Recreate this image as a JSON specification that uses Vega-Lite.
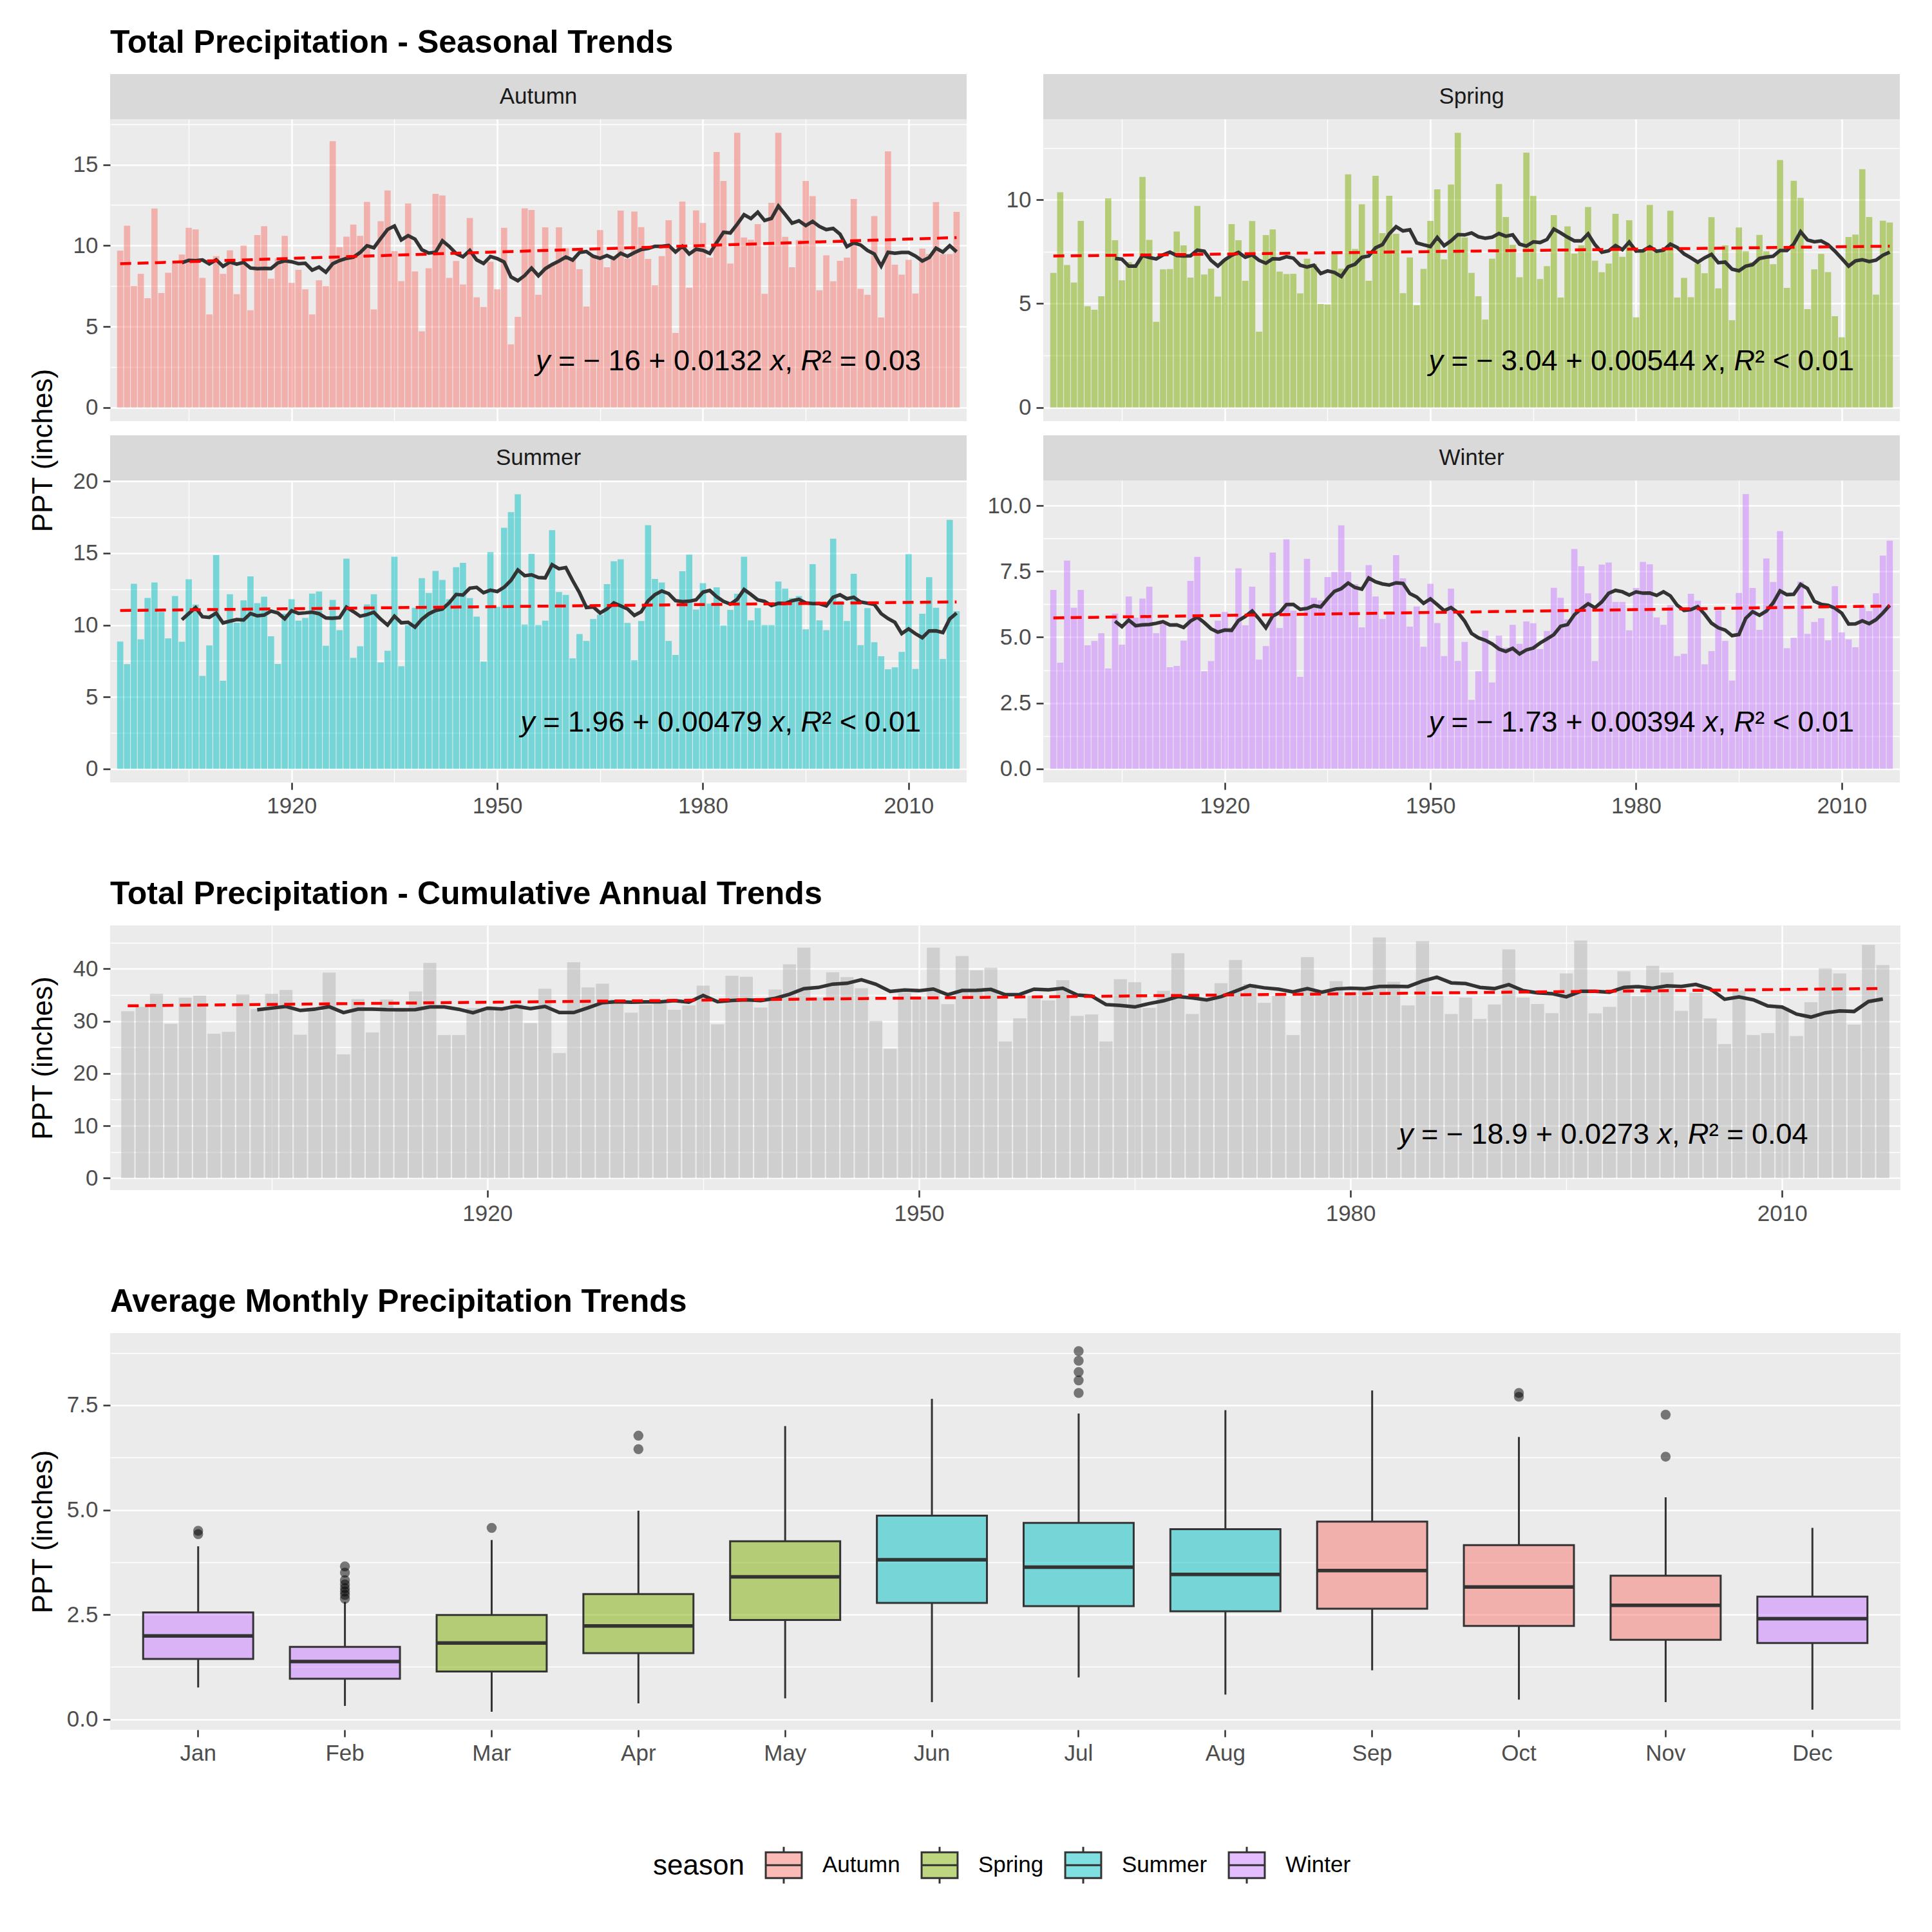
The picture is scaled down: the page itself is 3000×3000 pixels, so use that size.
{
"$schema": "https://vega.github.io/schema/vega-lite/v6.json",
"background": "white",
"autosize": {"type": "pad"},
"padding": {"left": 45, "top": 42, "right": 5, "bottom": 5},
"config": {
  "font": "Liberation Sans",
  "view": {"fill": "#EBEBEB", "stroke": null},
  "axis": {"domain": false, "gridColor": "#FFFFFF", "gridWidth": 2.6, "tickColor": "#333333", "tickWidth": 2.5, "tickSize": 11, "labelColor": "#4D4D4D", "labelFontSize": 35, "labelPadding": 8, "labelOverlap": false, "titleFontSize": 44, "titleFontWeight": "normal", "titleColor": "#000000"},
  "title": {"fontSize": 50, "fontWeight": "bold", "anchor": "start", "color": "#000000", "baseline": "bottom", "offset": 23, "frame": "group"},
  "text": {"fontSize": 45, "color": "#000000", "align": "right", "baseline": "middle"}
},
"datasets": {
"ppt": [
{"year":1895,"Autumn":9.68,"Spring":6.48,"Summer":8.85,"Winter":6.80,"Annual":31.89},
{"year":1896,"Autumn":11.23,"Spring":10.36,"Summer":7.28,"Winter":4.03,"Annual":32.7},
{"year":1897,"Autumn":7.51,"Spring":6.86,"Summer":12.87,"Winter":7.91,"Annual":35.2},
{"year":1898,"Autumn":8.25,"Spring":6.01,"Summer":9.0,"Winter":6.12,"Annual":29.47},
{"year":1899,"Autumn":6.75,"Spring":8.98,"Summer":11.88,"Winter":6.80,"Annual":34.47},
{"year":1900,"Autumn":12.29,"Spring":4.87,"Summer":12.96,"Winter":4.69,"Annual":34.88},
{"year":1901,"Autumn":7.07,"Spring":4.70,"Summer":10.91,"Winter":4.86,"Annual":27.58},
{"year":1902,"Autumn":8.32,"Spring":5.35,"Summer":9.07,"Winter":5.15,"Annual":27.95},
{"year":1903,"Autumn":8.9,"Spring":10.07,"Summer":12.02,"Winter":3.81,"Annual":35.08},
{"year":1904,"Autumn":9.45,"Spring":8.05,"Summer":8.83,"Winter":5.9,"Annual":32.3},
{"year":1905,"Autumn":11.1,"Spring":6.12,"Summer":13.18,"Winter":4.72,"Annual":35.2},
{"year":1906,"Autumn":11.0,"Spring":7.0,"Summer":11.42,"Winter":6.55,"Annual":35.94},
{"year":1907,"Autumn":8.0,"Spring":6.9,"Summer":6.46,"Winter":5.74,"Annual":27.38},
{"year":1908,"Autumn":5.75,"Spring":11.1,"Summer":8.58,"Winter":6.47,"Annual":31.9},
{"year":1909,"Autumn":9.35,"Spring":8.07,"Summer":14.86,"Winter":6.92,"Annual":39.26},
{"year":1910,"Autumn":8.25,"Spring":4.12,"Summer":6.13,"Winter":5.15,"Annual":23.65},
{"year":1911,"Autumn":9.7,"Spring":6.65,"Summer":12.14,"Winter":5.5,"Annual":34.2},
{"year":1912,"Autumn":7.0,"Spring":6.66,"Summer":10.16,"Winter":3.86,"Annual":27.83},
{"year":1913,"Autumn":10.0,"Spring":8.47,"Summer":11.72,"Winter":3.91,"Annual":34.14},
{"year":1914,"Autumn":6.0,"Spring":7.8,"Summer":13.38,"Winter":4.87,"Annual":32.05},
{"year":1915,"Autumn":10.65,"Spring":6.25,"Summer":11.52,"Winter":7.14,"Annual":35.66},
{"year":1916,"Autumn":11.2,"Spring":9.7,"Summer":11.97,"Winter":8.05,"Annual":41.11},
{"year":1917,"Autumn":7.95,"Spring":6.4,"Summer":9.22,"Winter":3.71,"Annual":27.34},
{"year":1918,"Autumn":9.2,"Spring":6.68,"Summer":7.29,"Winter":4.09,"Annual":27.34},
{"year":1919,"Autumn":10.6,"Spring":5.34,"Summer":10.78,"Winter":5.63,"Annual":32.5},
{"year":1920,"Autumn":7.7,"Spring":7.13,"Summer":11.79,"Winter":5.96,"Annual":32.58},
{"year":1921,"Autumn":8.5,"Spring":8.83,"Summer":10.3,"Winter":5.37,"Annual":32.5},
{"year":1922,"Autumn":7.3,"Spring":8.05,"Summer":10.49,"Winter":7.62,"Annual":33.2},
{"year":1923,"Autumn":5.75,"Spring":6.1,"Summer":12.18,"Winter":5.45,"Annual":29.6},
{"year":1924,"Autumn":7.85,"Spring":8.97,"Summer":12.33,"Winter":6.92,"Annual":36.19},
{"year":1925,"Autumn":7.5,"Spring":3.65,"Summer":8.56,"Winter":4.15,"Annual":23.89},
{"year":1926,"Autumn":16.45,"Spring":8.3,"Summer":11.75,"Winter":4.66,"Annual":41.23},
{"year":1927,"Autumn":9.9,"Spring":8.57,"Summer":9.64,"Winter":8.22,"Annual":36.43},
{"year":1928,"Autumn":10.55,"Spring":6.54,"Summer":14.62,"Winter":5.35,"Annual":37.13},
{"year":1929,"Autumn":11.3,"Spring":6.42,"Summer":7.71,"Winter":8.72,"Annual":34.15},
{"year":1930,"Autumn":10.6,"Spring":6.43,"Summer":8.52,"Winter":6.01,"Annual":31.6},
{"year":1931,"Autumn":12.7,"Spring":5.49,"Summer":11.43,"Winter":3.49,"Annual":33.11},
{"year":1932,"Autumn":6.05,"Spring":7.16,"Summer":12.14,"Winter":7.98,"Annual":33.33},
{"year":1933,"Autumn":11.5,"Spring":6.91,"Summer":7.4,"Winter":6.5,"Annual":32.17},
{"year":1934,"Autumn":13.4,"Spring":4.98,"Summer":8.21,"Winter":6.4,"Annual":33.0},
{"year":1935,"Autumn":9.65,"Spring":4.96,"Summer":14.75,"Winter":7.29,"Annual":36.76},
{"year":1936,"Autumn":7.8,"Spring":7.49,"Summer":7.13,"Winter":7.48,"Annual":29.4},
{"year":1937,"Autumn":12.6,"Spring":6.68,"Summer":10.0,"Winter":9.25,"Annual":38.65},
{"year":1938,"Autumn":8.4,"Spring":11.22,"Summer":11.2,"Winter":7.48,"Annual":38.48},
{"year":1939,"Autumn":4.7,"Spring":7.63,"Summer":13.26,"Winter":7.01,"Annual":32.58},
{"year":1940,"Autumn":8.6,"Spring":9.78,"Summer":12.23,"Winter":5.37,"Annual":36.02},
{"year":1941,"Autumn":13.2,"Spring":6.1,"Summer":13.77,"Winter":7.74,"Annual":40.82},
{"year":1942,"Autumn":13.1,"Spring":11.15,"Summer":13.14,"Winter":6.55,"Annual":44.02},
{"year":1943,"Autumn":8.0,"Spring":8.39,"Summer":11.79,"Winter":5.69,"Annual":34.5},
{"year":1944,"Autumn":9.05,"Spring":10.19,"Summer":14.02,"Winter":5.99,"Annual":39.34},
{"year":1945,"Autumn":7.6,"Spring":8.36,"Summer":14.32,"Winter":8.12,"Annual":38.4},
{"year":1946,"Autumn":11.7,"Spring":5.5,"Summer":11.87,"Winter":7.24,"Annual":36.27},
{"year":1947,"Autumn":6.8,"Spring":7.22,"Summer":10.58,"Winter":5.4,"Annual":30.04},
{"year":1948,"Autumn":6.2,"Spring":4.92,"Summer":7.46,"Winter":6.17,"Annual":24.71},
{"year":1949,"Autumn":9.0,"Spring":6.67,"Summer":15.07,"Winter":4.64,"Annual":35.38},
{"year":1950,"Autumn":7.3,"Spring":8.98,"Summer":11.27,"Winter":7.03,"Annual":34.58},
{"year":1951,"Autumn":11.1,"Spring":10.5,"Summer":16.77,"Winter":5.54,"Annual":44.02},
{"year":1952,"Autumn":3.9,"Spring":7.13,"Summer":17.85,"Winter":4.28,"Annual":33.24},
{"year":1953,"Autumn":5.6,"Spring":10.73,"Summer":19.1,"Winter":6.85,"Annual":42.42},
{"year":1954,"Autumn":12.3,"Spring":13.22,"Summer":10.03,"Winter":4.1,"Annual":39.71},
{"year":1955,"Autumn":12.2,"Spring":8.18,"Summer":14.95,"Winter":4.82,"Annual":40.2},
{"year":1956,"Autumn":6.96,"Spring":6.48,"Summer":10.0,"Winter":2.62,"Annual":26.1},
{"year":1957,"Autumn":11.13,"Spring":5.35,"Summer":10.3,"Winter":3.71,"Annual":30.53},
{"year":1958,"Autumn":8.8,"Spring":4.23,"Summer":16.6,"Winter":5.25,"Annual":34.88},
{"year":1959,"Autumn":11.13,"Spring":7.16,"Summer":12.3,"Winter":3.28,"Annual":33.93},
{"year":1960,"Autumn":9.83,"Spring":10.76,"Summer":12.09,"Winter":5.06,"Annual":37.83},
{"year":1961,"Autumn":9.2,"Spring":9.17,"Summer":7.68,"Winter":4.6,"Annual":31.0},
{"year":1962,"Autumn":8.54,"Spring":7.83,"Summer":9.37,"Winter":5.47,"Annual":31.27},
{"year":1963,"Autumn":6.23,"Spring":6.27,"Summer":8.89,"Winter":4.75,"Annual":26.1},
{"year":1964,"Autumn":9.38,"Spring":12.27,"Summer":10.42,"Winter":5.6,"Annual":37.99},
{"year":1965,"Autumn":10.96,"Spring":10.18,"Summer":10.72,"Winter":5.53,"Annual":37.42},
{"year":1966,"Autumn":8.66,"Spring":6.18,"Summer":12.85,"Winter":4.55,"Annual":32.54},
{"year":1967,"Autumn":9.2,"Spring":6.80,"Summer":14.44,"Winter":5.24,"Annual":35.78},
{"year":1968,"Autumn":12.16,"Spring":9.26,"Summer":14.57,"Winter":6.88,"Annual":42.95},
{"year":1969,"Autumn":9.2,"Spring":5.29,"Summer":10.15,"Winter":6.5,"Annual":31.35},
{"year":1970,"Autumn":12.1,"Spring":8.72,"Summer":7.55,"Winter":5.68,"Annual":34.05},
{"year":1971,"Autumn":11.14,"Spring":7.41,"Summer":10.28,"Winter":8.35,"Annual":37.25},
{"year":1972,"Autumn":9.18,"Spring":7.80,"Summer":16.95,"Winter":7.7,"Annual":41.68},
{"year":1973,"Autumn":7.55,"Spring":9.65,"Summer":13.2,"Winter":6.67,"Annual":37.07},
{"year":1974,"Autumn":9.35,"Spring":7.07,"Summer":12.96,"Winter":4.09,"Annual":33.48},
{"year":1975,"Autumn":11.56,"Spring":6.51,"Summer":8.89,"Winter":7.76,"Annual":34.84},
{"year":1976,"Autumn":4.6,"Spring":6.93,"Summer":7.92,"Winter":7.84,"Annual":27.34},
{"year":1977,"Autumn":12.72,"Spring":9.32,"Summer":13.74,"Winter":6.34,"Annual":42.21},
{"year":1978,"Autumn":7.4,"Spring":7.25,"Summer":14.9,"Winter":6.34,"Annual":35.89},
{"year":1979,"Autumn":12.17,"Spring":9.01,"Summer":11.08,"Winter":5.26,"Annual":37.62},
{"year":1980,"Autumn":11.4,"Spring":4.34,"Summer":12.91,"Winter":6.87,"Annual":35.52},
{"year":1981,"Autumn":9.26,"Spring":7.52,"Summer":11.49,"Winter":7.86,"Annual":36.13},
{"year":1982,"Autumn":15.78,"Spring":9.75,"Summer":12.62,"Winter":7.77,"Annual":45.98},
{"year":1983,"Autumn":13.99,"Spring":7.49,"Summer":9.97,"Winter":5.75,"Annual":37.5},
{"year":1984,"Autumn":8.89,"Spring":7.59,"Summer":11.05,"Winter":5.47,"Annual":32.99},
{"year":1985,"Autumn":16.96,"Spring":9.47,"Summer":12.17,"Winter":6.22,"Annual":45.25},
{"year":1986,"Autumn":10.5,"Spring":5.29,"Summer":14.75,"Winter":4.28,"Annual":34.82},
{"year":1987,"Autumn":10.36,"Spring":6.24,"Summer":10.33,"Winter":4.37,"Annual":31.35},
{"year":1988,"Autumn":11.33,"Spring":5.31,"Summer":11.18,"Winter":6.65,"Annual":34.5},
{"year":1989,"Autumn":7.02,"Spring":6.93,"Summer":10.0,"Winter":6.39,"Annual":30.4},
{"year":1990,"Autumn":12.64,"Spring":6.46,"Summer":10.0,"Winter":3.97,"Annual":33.16},
{"year":1991,"Autumn":16.96,"Spring":9.16,"Summer":13.02,"Winter":4.47,"Annual":43.69},
{"year":1992,"Autumn":10.54,"Spring":5.73,"Summer":12.53,"Winter":6.02,"Annual":34.5},
{"year":1993,"Autumn":8.66,"Spring":7.80,"Summer":11.87,"Winter":4.86,"Annual":33.28},
{"year":1994,"Autumn":10.34,"Spring":4.20,"Summer":12.02,"Winter":3.35,"Annual":31.5},
{"year":1995,"Autumn":13.99,"Spring":8.66,"Summer":9.7,"Winter":6.68,"Annual":39.1},
{"year":1996,"Autumn":13.06,"Spring":7.52,"Summer":14.23,"Winter":10.44,"Annual":45.4},
{"year":1997,"Autumn":7.24,"Spring":7.0,"Summer":10.33,"Winter":6.87,"Annual":31.48},
{"year":1998,"Autumn":9.4,"Spring":8.31,"Summer":9.64,"Winter":5.28,"Annual":32.7},
{"year":1999,"Autumn":7.79,"Spring":7.52,"Summer":16.01,"Winter":7.99,"Annual":39.5},
{"year":2000,"Autumn":9.06,"Spring":6.90,"Summer":11.67,"Winter":7.1,"Annual":34.73},
{"year":2001,"Autumn":9.26,"Spring":11.91,"Summer":10.28,"Winter":9.03,"Annual":40.57},
{"year":2002,"Autumn":12.88,"Spring":5.76,"Summer":13.56,"Winter":4.58,"Annual":39.26},
{"year":2003,"Autumn":7.33,"Spring":10.91,"Summer":8.6,"Winter":4.98,"Annual":31.93},
{"year":2004,"Autumn":6.96,"Spring":10.09,"Summer":11.18,"Winter":7.11,"Annual":35.4},
{"year":2005,"Autumn":11.82,"Spring":4.73,"Summer":8.8,"Winter":5.13,"Annual":30.49},
{"year":2006,"Autumn":5.56,"Spring":6.65,"Summer":7.83,"Winter":5.58,"Annual":25.61},
{"year":2007,"Autumn":15.82,"Spring":7.39,"Summer":6.92,"Winter":5.72,"Annual":35.85},
{"year":2008,"Autumn":8.82,"Spring":6.52,"Summer":7.06,"Winter":4.88,"Annual":27.34},
{"year":2009,"Autumn":8.2,"Spring":4.39,"Summer":8.13,"Winter":6.94,"Annual":27.7},
{"year":2010,"Autumn":9.12,"Spring":3.38,"Summer":14.93,"Winter":5.18,"Annual":32.61},
{"year":2011,"Autumn":7.04,"Spring":8.21,"Summer":6.94,"Winter":4.92,"Annual":27.13},
{"year":2012,"Autumn":9.81,"Spring":8.32,"Summer":10.78,"Winter":4.62,"Annual":33.6},
{"year":2013,"Autumn":9.48,"Spring":11.47,"Summer":13.33,"Winter":6.17,"Annual":40.1},
{"year":2014,"Autumn":12.69,"Spring":9.17,"Summer":11.2,"Winter":5.99,"Annual":39.1},
{"year":2015,"Autumn":9.48,"Spring":5.43,"Summer":7.64,"Winter":6.67,"Annual":29.34},
{"year":2016,"Autumn":9.48,"Spring":8.99,"Summer":17.32,"Winter":8.1,"Annual":44.55},
{"year":2017,"Autumn":12.08,"Spring":8.90,"Summer":10.96,"Winter":8.67,"Annual":40.7}
],
"box": [
{"month":"Jan","season":"Winter","lo":0.76,"q1":1.44,"med":1.99,"q3":2.55,"hi":4.13},
{"month":"Feb","season":"Winter","lo":0.32,"q1":0.97,"med":1.38,"q3":1.73,"hi":2.8},
{"month":"Mar","season":"Spring","lo":0.18,"q1":1.14,"med":1.82,"q3":2.49,"hi":4.28},
{"month":"Apr","season":"Spring","lo":0.38,"q1":1.58,"med":2.23,"q3":2.99,"hi":4.98},
{"month":"May","season":"Spring","lo":0.5,"q1":2.37,"med":3.4,"q3":4.25,"hi":7.0},
{"month":"Jun","season":"Summer","lo":0.41,"q1":2.78,"med":3.81,"q3":4.86,"hi":7.65},
{"month":"Jul","season":"Summer","lo":1.0,"q1":2.7,"med":3.63,"q3":4.69,"hi":7.3},
{"month":"Aug","season":"Summer","lo":0.59,"q1":2.58,"med":3.46,"q3":4.54,"hi":7.38},
{"month":"Sep","season":"Autumn","lo":1.17,"q1":2.64,"med":3.55,"q3":4.72,"hi":7.85},
{"month":"Oct","season":"Autumn","lo":0.47,"q1":2.23,"med":3.16,"q3":4.16,"hi":6.74},
{"month":"Nov","season":"Autumn","lo":0.41,"q1":1.9,"med":2.72,"q3":3.43,"hi":5.3},
{"month":"Dec","season":"Winter","lo":0.23,"q1":1.82,"med":2.4,"q3":2.93,"hi":4.57}
],
"out": [
{"month":"Jan","ppt":4.42},{"month":"Jan","ppt":4.5},
{"month":"Feb","ppt":2.88},{"month":"Feb","ppt":2.97},{"month":"Feb","ppt":3.05},{"month":"Feb","ppt":3.13},{"month":"Feb","ppt":3.22},{"month":"Feb","ppt":3.32},{"month":"Feb","ppt":3.5},{"month":"Feb","ppt":3.65},
{"month":"Mar","ppt":4.57},
{"month":"Apr","ppt":6.45},{"month":"Apr","ppt":6.77},
{"month":"Jul","ppt":7.79},{"month":"Jul","ppt":8.09},{"month":"Jul","ppt":8.29},{"month":"Jul","ppt":8.56},{"month":"Jul","ppt":8.79},
{"month":"Oct","ppt":7.7},{"month":"Oct","ppt":7.79},
{"month":"Nov","ppt":6.27},{"month":"Nov","ppt":7.27}
]
},
"spacing": 95,
"vconcat": [
{
 "title": {"text": "Total Precipitation - Seasonal Trends"},
 "columns": 2,
 "bounds": "flush",
 "align": "each",
 "spacing": {"row": 0, "column": 119},
 "concat": [
  {"width": 1330, "height": 70, "view": {"fill": null, "stroke": null}, "data": {"values": [{"label": "Autumn"}]},
   "layer": [
    {"mark": {"type": "rect", "color": "#D9D9D9"}, "encoding": {"x": {"datum": 0, "type": "quantitative", "scale": {"domain": [0, 1], "nice": false}, "axis": null}, "x2": {"datum": 1}, "y": {"datum": 0, "type": "quantitative", "scale": {"domain": [0, 70], "nice": false}, "axis": null}, "y2": {"datum": 70}}},
    {"mark": {"type": "text", "fontSize": 35, "color": "#1A1A1A", "align": "center", "baseline": "middle"}, "encoding": {"x": {"datum": 0.5, "type": "quantitative"}, "y": {"datum": 35, "type": "quantitative"}, "text": {"field": "label"}}}
   ]},
  {"width": 1330, "height": 70, "view": {"fill": null, "stroke": null}, "data": {"values": [{"label": "Spring"}]},
   "layer": [
    {"mark": {"type": "rect", "color": "#D9D9D9"}, "encoding": {"x": {"datum": 0, "type": "quantitative", "scale": {"domain": [0, 1], "nice": false}, "axis": null}, "x2": {"datum": 1}, "y": {"datum": 0, "type": "quantitative", "scale": {"domain": [0, 70], "nice": false}, "axis": null}, "y2": {"datum": 70}}},
    {"mark": {"type": "text", "fontSize": 35, "color": "#1A1A1A", "align": "center", "baseline": "middle"}, "encoding": {"x": {"datum": 0.5, "type": "quantitative"}, "y": {"datum": 35, "type": "quantitative"}, "text": {"field": "label"}}}
   ]},
  {"width": 1330, "height": 469,
   "layer": [
    {"data": {"name": "ppt"}, "mark": {"type": "bar", "width": 9.65, "color": "#F8766D", "fillOpacity": 0.5},
     "encoding": {
      "x": {"field": "year", "type": "quantitative", "scale": {"domain": [1894, 2018], "nice": false, "zero": false},
            "axis": {"values": [1905,1920,1935,1950,1965,1980,1995,2010], "labels": false, "ticks": false, "title": null, "gridWidth": {"condition": {"test": "datum.value % 30 == 0", "value": 2.6}, "value": 1.3}}},
      "y": {"field": "Autumn", "type": "quantitative", "scale": {"domain": [-0.848, 17.81], "nice": false, "zero": false},
            "axis": {"values": [0,2.5,5,7.5,10,12.5,15,17.5], "format": "d", "labelExpr": "datum.value % 5 == 0 ? datum.label : ''", "tickOpacity": {"condition": {"test": "datum.value % 5 == 0", "value": 1}, "value": 0}, "gridWidth": {"condition": {"test": "datum.value % 5 == 0", "value": 2.6}, "value": 1.3},
                     "title": "PPT (inches)", "titleX": -104, "titleY": 514, "titleAngle": -90, "titleAlign": "center", "titleBaseline": "middle"}}}},
    {"data": {"name": "ppt"}, "transform": [{"window": [{"op": "mean", "field": "Autumn", "as": "roll"}, {"op": "count", "as": "n"}], "frame": [-9, 0], "sort": [{"field": "year", "order": "ascending"}]}, {"filter": "datum.n == 10"}],
     "mark": {"type": "line", "color": "#333333", "strokeWidth": 5.5}, "encoding": {"x": {"field": "year", "type": "quantitative"}, "y": {"field": "roll", "type": "quantitative"}}},
    {"data": {"name": "ppt"}, "transform": [{"regression": "Autumn", "on": "year"}],
     "mark": {"type": "line", "color": "#FF0000", "strokeWidth": 4.5, "strokeDash": [17, 10]}, "encoding": {"x": {"field": "year", "type": "quantitative"}, "y": {"field": "Autumn", "type": "quantitative"}}},
    {"data": {"values": [{}]}, "mark": {"type": "text", "dx": 0}, "encoding": {"x": {"datum": 2011.8, "type": "quantitative"}, "y": {"datum": 2.86, "type": "quantitative"}, "text": {"value": "² = 0.03"}}},
    {"data": {"values": [{}]}, "mark": {"type": "text", "dx": -153.9, "fontStyle": "italic"}, "encoding": {"x": {"datum": 2011.8, "type": "quantitative"}, "y": {"datum": 2.86, "type": "quantitative"}, "text": {"value": "R"}}},
    {"data": {"values": [{}]}, "mark": {"type": "text", "dx": -198.9}, "encoding": {"x": {"datum": 2011.8, "type": "quantitative"}, "y": {"datum": 2.86, "type": "quantitative"}, "text": {"value": ","}}},
    {"data": {"values": [{}]}, "mark": {"type": "text", "dx": -211.4, "fontStyle": "italic"}, "encoding": {"x": {"datum": 2011.8, "type": "quantitative"}, "y": {"datum": 2.86, "type": "quantitative"}, "text": {"value": "x"}}},
    {"data": {"values": [{}]}, "mark": {"type": "text", "dx": -246.4}, "encoding": {"x": {"datum": 2011.8, "type": "quantitative"}, "y": {"datum": 2.86, "type": "quantitative"}, "text": {"value": "= − 16 + 0.0132"}}},
    {"data": {"values": [{}]}, "mark": {"type": "text", "dx": -575.4, "fontStyle": "italic"}, "encoding": {"x": {"datum": 2011.8, "type": "quantitative"}, "y": {"datum": 2.86, "type": "quantitative"}, "text": {"value": "y"}}}
   ]},
  {"width": 1330, "height": 469,
   "layer": [
    {"data": {"name": "ppt"}, "mark": {"type": "bar", "width": 9.65, "color": "#7CAE00", "fillOpacity": 0.5},
     "encoding": {
      "x": {"field": "year", "type": "quantitative", "scale": {"domain": [1894, 2018], "nice": false, "zero": false},
            "axis": {"values": [1905,1920,1935,1950,1965,1980,1995,2010], "labels": false, "ticks": false, "title": null, "gridWidth": {"condition": {"test": "datum.value % 30 == 0", "value": 2.6}, "value": 1.3}}},
      "y": {"field": "Spring", "type": "quantitative", "scale": {"domain": [-0.661, 13.88], "nice": false, "zero": false},
            "axis": {"values": [0,2.5,5,7.5,10,12.5], "format": "d", "labelExpr": "datum.value % 5 == 0 ? datum.label : ''", "tickOpacity": {"condition": {"test": "datum.value % 5 == 0", "value": 1}, "value": 0}, "gridWidth": {"condition": {"test": "datum.value % 5 == 0", "value": 2.6}, "value": 1.3}, "title": null}}}},
    {"data": {"name": "ppt"}, "transform": [{"window": [{"op": "mean", "field": "Spring", "as": "roll"}, {"op": "count", "as": "n"}], "frame": [-9, 0], "sort": [{"field": "year", "order": "ascending"}]}, {"filter": "datum.n == 10"}],
     "mark": {"type": "line", "color": "#333333", "strokeWidth": 5.5}, "encoding": {"x": {"field": "year", "type": "quantitative"}, "y": {"field": "roll", "type": "quantitative"}}},
    {"data": {"name": "ppt"}, "transform": [{"regression": "Spring", "on": "year"}],
     "mark": {"type": "line", "color": "#FF0000", "strokeWidth": 4.5, "strokeDash": [17, 10]}, "encoding": {"x": {"field": "year", "type": "quantitative"}, "y": {"field": "Spring", "type": "quantitative"}}},
    {"data": {"values": [{}]}, "mark": {"type": "text", "dx": 0}, "encoding": {"x": {"datum": 2011.8, "type": "quantitative"}, "y": {"datum": 2.22, "type": "quantitative"}, "text": {"value": "² < 0.01"}}},
    {"data": {"values": [{}]}, "mark": {"type": "text", "dx": -153.9, "fontStyle": "italic"}, "encoding": {"x": {"datum": 2011.8, "type": "quantitative"}, "y": {"datum": 2.22, "type": "quantitative"}, "text": {"value": "R"}}},
    {"data": {"values": [{}]}, "mark": {"type": "text", "dx": -198.9}, "encoding": {"x": {"datum": 2011.8, "type": "quantitative"}, "y": {"datum": 2.22, "type": "quantitative"}, "text": {"value": ","}}},
    {"data": {"values": [{}]}, "mark": {"type": "text", "dx": -211.4, "fontStyle": "italic"}, "encoding": {"x": {"datum": 2011.8, "type": "quantitative"}, "y": {"datum": 2.22, "type": "quantitative"}, "text": {"value": "x"}}},
    {"data": {"values": [{}]}, "mark": {"type": "text", "dx": -246.4}, "encoding": {"x": {"datum": 2011.8, "type": "quantitative"}, "y": {"datum": 2.22, "type": "quantitative"}, "text": {"value": "= − 3.04 + 0.00544"}}},
    {"data": {"values": [{}]}, "mark": {"type": "text", "dx": -638.0, "fontStyle": "italic"}, "encoding": {"x": {"datum": 2011.8, "type": "quantitative"}, "y": {"datum": 2.22, "type": "quantitative"}, "text": {"value": "y"}}}
   ]},
  {"width": 1330, "height": 92, "view": {"fill": null, "stroke": null}, "data": {"values": [{"label": "Summer"}]},
   "layer": [
    {"mark": {"type": "rect", "color": "#D9D9D9"}, "encoding": {"x": {"datum": 0, "type": "quantitative", "scale": {"domain": [0, 1], "nice": false}, "axis": null}, "x2": {"datum": 1}, "y": {"datum": 0, "type": "quantitative", "scale": {"domain": [0, 92], "nice": false}, "axis": null}, "y2": {"datum": 70}}},
    {"mark": {"type": "text", "fontSize": 35, "color": "#1A1A1A", "align": "center", "baseline": "middle"}, "encoding": {"x": {"datum": 0.5, "type": "quantitative"}, "y": {"datum": 35, "type": "quantitative"}, "text": {"field": "label"}}}
   ]},
  {"width": 1330, "height": 92, "view": {"fill": null, "stroke": null}, "data": {"values": [{"label": "Winter"}]},
   "layer": [
    {"mark": {"type": "rect", "color": "#D9D9D9"}, "encoding": {"x": {"datum": 0, "type": "quantitative", "scale": {"domain": [0, 1], "nice": false}, "axis": null}, "x2": {"datum": 1}, "y": {"datum": 0, "type": "quantitative", "scale": {"domain": [0, 92], "nice": false}, "axis": null}, "y2": {"datum": 70}}},
    {"mark": {"type": "text", "fontSize": 35, "color": "#1A1A1A", "align": "center", "baseline": "middle"}, "encoding": {"x": {"datum": 0.5, "type": "quantitative"}, "y": {"datum": 35, "type": "quantitative"}, "text": {"field": "label"}}}
   ]},
  {"width": 1330, "height": 469,
   "layer": [
    {"data": {"name": "ppt"}, "mark": {"type": "bar", "width": 9.65, "color": "#00BFC4", "fillOpacity": 0.5},
     "encoding": {
      "x": {"field": "year", "type": "quantitative", "scale": {"domain": [1894, 2018], "nice": false, "zero": false},
            "axis": {"values": [1905,1920,1935,1950,1965,1980,1995,2010], "format": "d", "title": null, "labelExpr": "datum.value % 30 == 0 ? datum.label : ''", "tickOpacity": {"condition": {"test": "datum.value % 30 == 0", "value": 1}, "value": 0}, "gridWidth": {"condition": {"test": "datum.value % 30 == 0", "value": 2.6}, "value": 1.3}}},
      "y": {"field": "Summer", "type": "quantitative", "scale": {"domain": [-0.955, 20.06], "nice": false, "zero": false},
            "axis": {"values": [0,2.5,5,7.5,10,12.5,15,17.5,20], "format": "d", "labelExpr": "datum.value % 5 == 0 ? datum.label : ''", "tickOpacity": {"condition": {"test": "datum.value % 5 == 0", "value": 1}, "value": 0}, "gridWidth": {"condition": {"test": "datum.value % 5 == 0", "value": 2.6}, "value": 1.3}, "title": null}}}},
    {"data": {"name": "ppt"}, "transform": [{"window": [{"op": "mean", "field": "Summer", "as": "roll"}, {"op": "count", "as": "n"}], "frame": [-9, 0], "sort": [{"field": "year", "order": "ascending"}]}, {"filter": "datum.n == 10"}],
     "mark": {"type": "line", "color": "#333333", "strokeWidth": 5.5}, "encoding": {"x": {"field": "year", "type": "quantitative"}, "y": {"field": "roll", "type": "quantitative"}}},
    {"data": {"name": "ppt"}, "transform": [{"regression": "Summer", "on": "year"}],
     "mark": {"type": "line", "color": "#FF0000", "strokeWidth": 4.5, "strokeDash": [17, 10]}, "encoding": {"x": {"field": "year", "type": "quantitative"}, "y": {"field": "Summer", "type": "quantitative"}}},
    {"data": {"values": [{}]}, "mark": {"type": "text", "dx": 0}, "encoding": {"x": {"datum": 2011.8, "type": "quantitative"}, "y": {"datum": 3.2, "type": "quantitative"}, "text": {"value": "² < 0.01"}}},
    {"data": {"values": [{}]}, "mark": {"type": "text", "dx": -153.9, "fontStyle": "italic"}, "encoding": {"x": {"datum": 2011.8, "type": "quantitative"}, "y": {"datum": 3.2, "type": "quantitative"}, "text": {"value": "R"}}},
    {"data": {"values": [{}]}, "mark": {"type": "text", "dx": -198.9}, "encoding": {"x": {"datum": 2011.8, "type": "quantitative"}, "y": {"datum": 3.2, "type": "quantitative"}, "text": {"value": ","}}},
    {"data": {"values": [{}]}, "mark": {"type": "text", "dx": -211.4, "fontStyle": "italic"}, "encoding": {"x": {"datum": 2011.8, "type": "quantitative"}, "y": {"datum": 3.2, "type": "quantitative"}, "text": {"value": "x"}}},
    {"data": {"values": [{}]}, "mark": {"type": "text", "dx": -246.4}, "encoding": {"x": {"datum": 2011.8, "type": "quantitative"}, "y": {"datum": 3.2, "type": "quantitative"}, "text": {"value": "= 1.96 + 0.00479"}}},
    {"data": {"values": [{}]}, "mark": {"type": "text", "dx": -599.2, "fontStyle": "italic"}, "encoding": {"x": {"datum": 2011.8, "type": "quantitative"}, "y": {"datum": 3.2, "type": "quantitative"}, "text": {"value": "y"}}}
   ]},
  {"width": 1330, "height": 469,
   "layer": [
    {"data": {"name": "ppt"}, "mark": {"type": "bar", "width": 9.65, "color": "#C77CFF", "fillOpacity": 0.5},
     "encoding": {
      "x": {"field": "year", "type": "quantitative", "scale": {"domain": [1894, 2018], "nice": false, "zero": false},
            "axis": {"values": [1905,1920,1935,1950,1965,1980,1995,2010], "format": "d", "title": null, "labelExpr": "datum.value % 30 == 0 ? datum.label : ''", "tickOpacity": {"condition": {"test": "datum.value % 30 == 0", "value": 1}, "value": 0}, "gridWidth": {"condition": {"test": "datum.value % 30 == 0", "value": 2.6}, "value": 1.3}}},
      "y": {"field": "Winter", "type": "quantitative", "scale": {"domain": [-0.522, 10.96], "nice": false, "zero": false},
            "axis": {"values": [0,1.25,2.5,3.75,5,6.25,7.5,8.75,10], "format": ".1f", "labelExpr": "datum.value % 2.5 == 0 ? datum.label : ''", "tickOpacity": {"condition": {"test": "datum.value % 2.5 == 0", "value": 1}, "value": 0}, "gridWidth": {"condition": {"test": "datum.value % 2.5 == 0", "value": 2.6}, "value": 1.3}, "title": null}}}},
    {"data": {"name": "ppt"}, "transform": [{"window": [{"op": "mean", "field": "Winter", "as": "roll"}, {"op": "count", "as": "n"}], "frame": [-9, 0], "sort": [{"field": "year", "order": "ascending"}]}, {"filter": "datum.n == 10"}],
     "mark": {"type": "line", "color": "#333333", "strokeWidth": 5.5}, "encoding": {"x": {"field": "year", "type": "quantitative"}, "y": {"field": "roll", "type": "quantitative"}}},
    {"data": {"name": "ppt"}, "transform": [{"regression": "Winter", "on": "year"}],
     "mark": {"type": "line", "color": "#FF0000", "strokeWidth": 4.5, "strokeDash": [17, 10]}, "encoding": {"x": {"field": "year", "type": "quantitative"}, "y": {"field": "Winter", "type": "quantitative"}}},
    {"data": {"values": [{}]}, "mark": {"type": "text", "dx": 0}, "encoding": {"x": {"datum": 2011.8, "type": "quantitative"}, "y": {"datum": 1.75, "type": "quantitative"}, "text": {"value": "² < 0.01"}}},
    {"data": {"values": [{}]}, "mark": {"type": "text", "dx": -153.9, "fontStyle": "italic"}, "encoding": {"x": {"datum": 2011.8, "type": "quantitative"}, "y": {"datum": 1.75, "type": "quantitative"}, "text": {"value": "R"}}},
    {"data": {"values": [{}]}, "mark": {"type": "text", "dx": -198.9}, "encoding": {"x": {"datum": 2011.8, "type": "quantitative"}, "y": {"datum": 1.75, "type": "quantitative"}, "text": {"value": ","}}},
    {"data": {"values": [{}]}, "mark": {"type": "text", "dx": -211.4, "fontStyle": "italic"}, "encoding": {"x": {"datum": 2011.8, "type": "quantitative"}, "y": {"datum": 1.75, "type": "quantitative"}, "text": {"value": "x"}}},
    {"data": {"values": [{}]}, "mark": {"type": "text", "dx": -246.4}, "encoding": {"x": {"datum": 2011.8, "type": "quantitative"}, "y": {"datum": 1.75, "type": "quantitative"}, "text": {"value": "= − 1.73 + 0.00394"}}},
    {"data": {"values": [{}]}, "mark": {"type": "text", "dx": -638.0, "fontStyle": "italic"}, "encoding": {"x": {"datum": 2011.8, "type": "quantitative"}, "y": {"datum": 1.75, "type": "quantitative"}, "text": {"value": "y"}}}
   ]}
 ]
},
{
 "title": {"text": "Total Precipitation - Cumulative Annual Trends"},
 "width": 2780, "height": 411,
 "layer": [
  {"data": {"name": "ppt"}, "mark": {"type": "bar", "width": 20.2, "color": "#B3B3B3", "fillOpacity": 0.5},
   "encoding": {
    "x": {"field": "year", "type": "quantitative", "scale": {"domain": [1894, 2018], "nice": false, "zero": false},
          "axis": {"values": [1905,1920,1935,1950,1965,1980,1995,2010], "format": "d", "title": null, "labelExpr": "datum.value % 30 == 0 ? datum.label : ''", "tickOpacity": {"condition": {"test": "datum.value % 30 == 0", "value": 1}, "value": 0}, "gridWidth": {"condition": {"test": "datum.value % 30 == 0", "value": 2.6}, "value": 1.3}}},
    "y": {"field": "Annual", "type": "quantitative", "scale": {"domain": [-2.3, 48.28], "nice": false, "zero": false},
          "axis": {"values": [0,5,10,15,20,25,30,35,40,45], "format": "d", "labelExpr": "datum.value % 10 == 0 ? datum.label : ''", "tickOpacity": {"condition": {"test": "datum.value % 10 == 0", "value": 1}, "value": 0}, "gridWidth": {"condition": {"test": "datum.value % 10 == 0", "value": 2.6}, "value": 1.3},
                   "title": "PPT (inches)", "titleX": -104, "titleY": 205.5, "titleAngle": -90, "titleAlign": "center", "titleBaseline": "middle"}}}},
  {"data": {"name": "ppt"}, "transform": [{"window": [{"op": "mean", "field": "Annual", "as": "roll"}, {"op": "count", "as": "n"}], "frame": [-9, 0], "sort": [{"field": "year", "order": "ascending"}]}, {"filter": "datum.n == 10"}],
   "mark": {"type": "line", "color": "#333333", "strokeWidth": 5.5}, "encoding": {"x": {"field": "year", "type": "quantitative"}, "y": {"field": "roll", "type": "quantitative"}}},
  {"data": {"name": "ppt"}, "transform": [{"regression": "Annual", "on": "year"}],
   "mark": {"type": "line", "color": "#FF0000", "strokeWidth": 4.5, "strokeDash": [17, 10]}, "encoding": {"x": {"field": "year", "type": "quantitative"}, "y": {"field": "Annual", "type": "quantitative"}}},
  {"data": {"values": [{}]}, "mark": {"type": "text", "dx": 0}, "encoding": {"x": {"datum": 2011.8, "type": "quantitative"}, "y": {"datum": 8.3, "type": "quantitative"}, "text": {"value": "² = 0.04"}}},
  {"data": {"values": [{}]}, "mark": {"type": "text", "dx": -153.9, "fontStyle": "italic"}, "encoding": {"x": {"datum": 2011.8, "type": "quantitative"}, "y": {"datum": 8.3, "type": "quantitative"}, "text": {"value": "R"}}},
  {"data": {"values": [{}]}, "mark": {"type": "text", "dx": -198.9}, "encoding": {"x": {"datum": 2011.8, "type": "quantitative"}, "y": {"datum": 8.3, "type": "quantitative"}, "text": {"value": ","}}},
  {"data": {"values": [{}]}, "mark": {"type": "text", "dx": -211.4, "fontStyle": "italic"}, "encoding": {"x": {"datum": 2011.8, "type": "quantitative"}, "y": {"datum": 8.3, "type": "quantitative"}, "text": {"value": "x"}}},
  {"data": {"values": [{}]}, "mark": {"type": "text", "dx": -246.4}, "encoding": {"x": {"datum": 2011.8, "type": "quantitative"}, "y": {"datum": 8.3, "type": "quantitative"}, "text": {"value": "= − 18.9 + 0.0273"}}},
  {"data": {"values": [{}]}, "mark": {"type": "text", "dx": -612.9, "fontStyle": "italic"}, "encoding": {"x": {"datum": 2011.8, "type": "quantitative"}, "y": {"datum": 8.3, "type": "quantitative"}, "text": {"value": "y"}}}
 ]
},
{
 "title": {"text": "Average Monthly Precipitation Trends"},
 "width": 2780, "height": 616,
 "layer": [
  {"data": {"name": "box"}, "mark": {"type": "rule", "color": "#333333", "strokeWidth": 3},
   "encoding": {
    "x": {"field": "month", "type": "nominal", "sort": ["Jan","Feb","Mar","Apr","May","Jun","Jul","Aug","Sep","Oct","Nov","Dec"], "scale": {"paddingInner": 0, "paddingOuter": 0.1}, "axis": {"title": null, "labelAngle": 0, "bandPosition": 0.5}},
    "y": {"field": "lo", "type": "quantitative", "scale": {"domain": [-0.25, 9.22], "nice": false, "zero": false},
          "axis": {"values": [0,1.25,2.5,3.75,5,6.25,7.5,8.75], "format": ".1f", "labelExpr": "datum.value % 2.5 == 0 ? datum.label : ''", "tickOpacity": {"condition": {"test": "datum.value % 2.5 == 0", "value": 1}, "value": 0}, "gridWidth": {"condition": {"test": "datum.value % 2.5 == 0", "value": 2.6}, "value": 1.3},
                   "title": "PPT (inches)", "titleX": -104, "titleY": 308, "titleAngle": -90, "titleAlign": "center", "titleBaseline": "middle"}},
    "y2": {"field": "q1"}}},
  {"data": {"name": "box"}, "mark": {"type": "rule", "color": "#333333", "strokeWidth": 3},
   "encoding": {"x": {"field": "month", "type": "nominal", "sort": ["Jan","Feb","Mar","Apr","May","Jun","Jul","Aug","Sep","Oct","Nov","Dec"]}, "y": {"field": "q3", "type": "quantitative"}, "y2": {"field": "hi"}}},
  {"data": {"name": "box"}, "mark": {"type": "bar", "width": {"band": 0.75}, "fillOpacity": 0.5, "stroke": "#333333", "strokeWidth": 3},
   "encoding": {"x": {"field": "month", "type": "nominal", "sort": ["Jan","Feb","Mar","Apr","May","Jun","Jul","Aug","Sep","Oct","Nov","Dec"]}, "y": {"field": "q1", "type": "quantitative"}, "y2": {"field": "q3"},
    "fill": {"field": "season", "type": "nominal", "scale": {"domain": ["Autumn","Spring","Summer","Winter"], "range": ["#F8766D","#7CAE00","#00BFC4","#C77CFF"]},
     "legend": {"orient": "none", "legendX": 843, "legendY": 2751, "direction": "horizontal", "title": "season", "titleOrient": "left", "titleFontSize": 44, "titleFontWeight": "normal", "titleColor": "#000000", "titlePadding": 31, "titleAnchor": "middle", "titleBaseline": "middle", "labelFontSize": 35, "labelColor": "#000000", "labelOffset": 30, "columnPadding": 27,
      "symbolType": "M-0.98,-0.7H0.98V0.7H-0.98Z M-0.98,0H0.98 M0,-0.7V-1 M0,0.7V1", "symbolSize": 3249, "symbolStrokeWidth": 3, "symbolStrokeColor": "#333333",
      "encode": {"symbols": {"update": {"fillOpacity": {"value": 0.5}, "stroke": {"value": "#333333"}, "strokeWidth": {"value": 3}, "opacity": {"value": 1}}}}}}}},
  {"data": {"name": "box"}, "mark": {"type": "tick", "color": "#333333", "thickness": 5.5, "size": 171, "opacity": 1},
   "encoding": {"x": {"field": "month", "type": "nominal", "sort": ["Jan","Feb","Mar","Apr","May","Jun","Jul","Aug","Sep","Oct","Nov","Dec"]}, "y": {"field": "med", "type": "quantitative"}}},
  {"data": {"name": "out"}, "mark": {"type": "circle", "size": 240, "color": "#000000", "opacity": 0.5},
   "encoding": {"x": {"field": "month", "type": "nominal", "sort": ["Jan","Feb","Mar","Apr","May","Jun","Jul","Aug","Sep","Oct","Nov","Dec"]}, "y": {"field": "ppt", "type": "quantitative"}}}
 ]
}
]
}
